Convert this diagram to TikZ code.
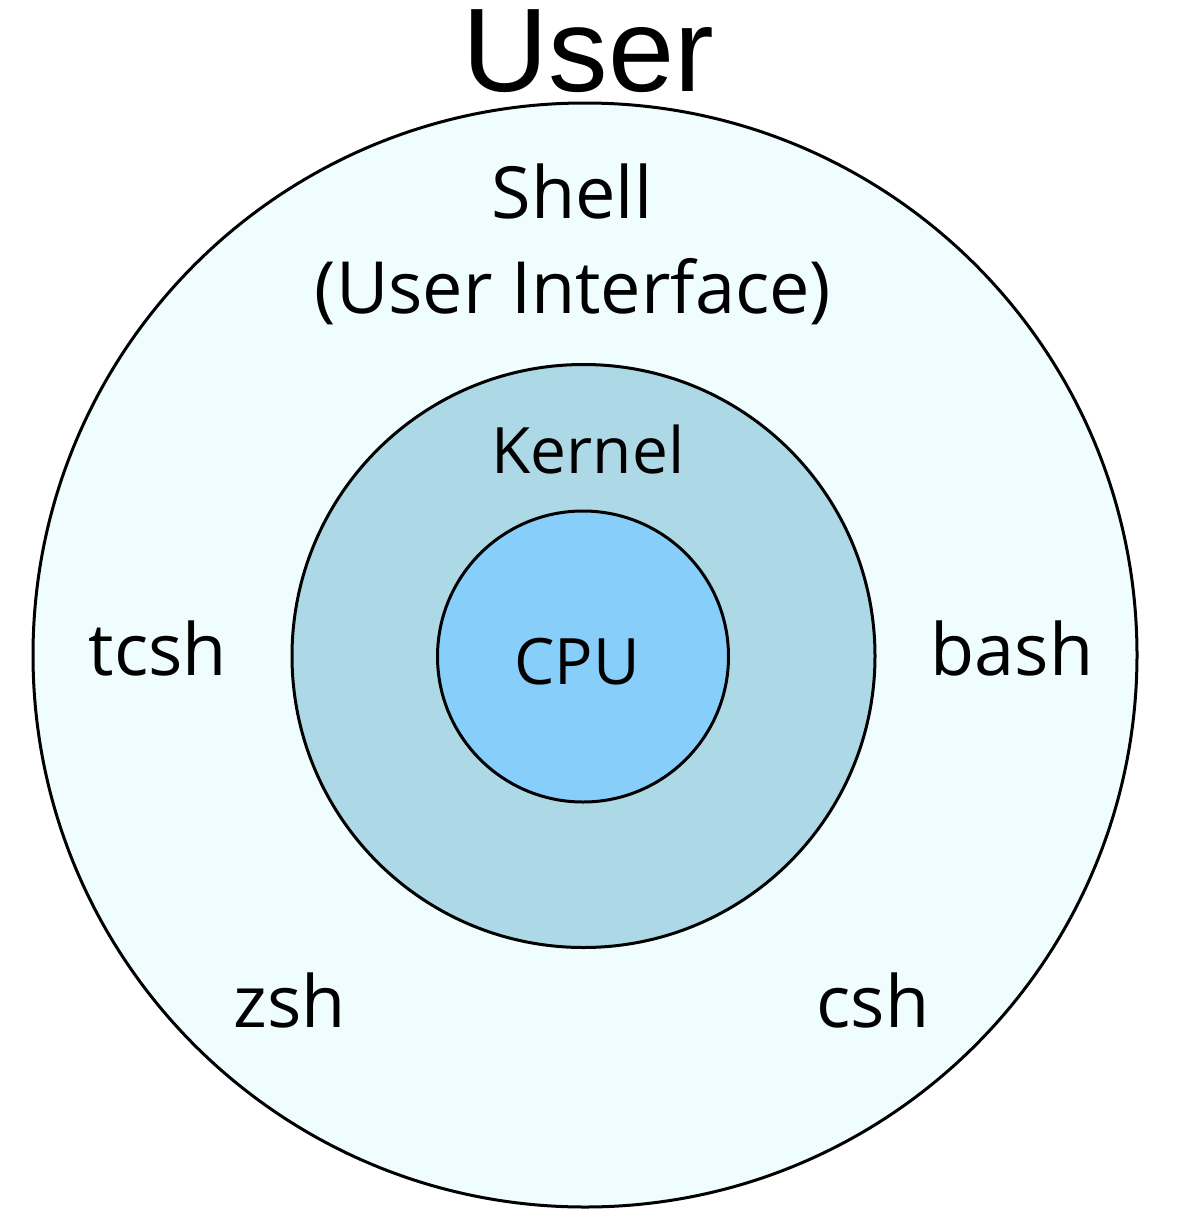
\documentclass[tikz,border=0pt]{standalone}
\usepackage{fontspec}
\setmainfont{Open Sans}
\newfontfamily\userfont{Liberation Sans}
\definecolor{shellfill}{HTML}{EFFDFE}
\definecolor{kernelfill}{HTML}{ADD8E6}
\definecolor{cpufill}{HTML}{87CEFA}
\begin{document}
\begin{tikzpicture}[x=1pt,y=-1pt,
  ring/.style={draw=black,line width=3pt,circle,inner sep=0pt},
  lbl/.style={anchor=base,inner sep=0pt,font=\fontsize{72}{80}\selectfont},
  smalllbl/.style={anchor=base,inner sep=0pt,font=\fontsize{64}{70}\selectfont}]
\useasboundingbox (0,0) rectangle (1187,1218);
\fill[white] (0,0) rectangle (1187,1218);
\node[ring,fill=shellfill,minimum size=1104pt] (shell) at (585,655) {};
\node[ring,fill=kernelfill,minimum size=583pt] (kernel) at (583.5,656) {};
\node[ring,fill=cpufill,minimum size=291pt] (cpu) at (583,656.5) {};
\node[anchor=base,inner sep=0pt,text height=0.72em,font=\userfont\fontsize{119}{125}\selectfont] (user) at (588.5,91) {User};
\node[lbl] (shelltxt) at (572,218) {Shell};
\node[lbl] (ui) at (573,313) {(User Interface)};
\node[smalllbl] (kerneltxt) at (588,473) {Kernel};
\node[smalllbl] (cputxt) at (577,684) {CPU};
\node[lbl] (tcsh) at (158,675) {tcsh};
\node[lbl] (bash) at (1012,675) {bash};
\node[lbl] (zsh) at (290,1027) {zsh};
\node[lbl] (csh) at (873,1027) {csh};
\end{tikzpicture}
\end{document}
